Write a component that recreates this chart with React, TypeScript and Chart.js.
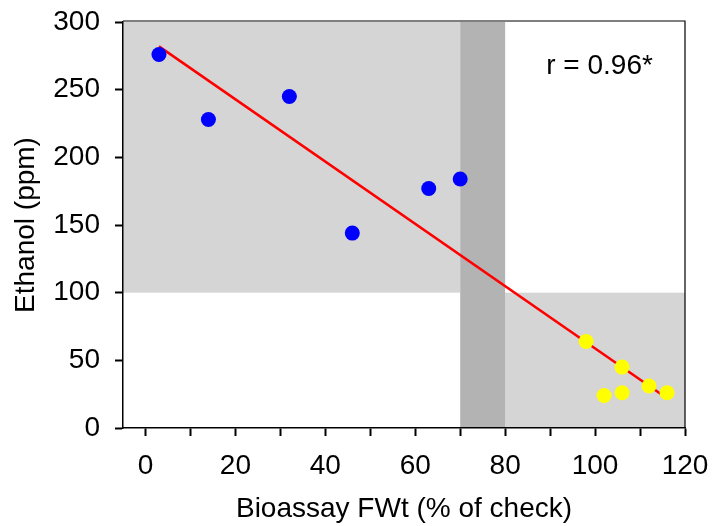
import React, { useEffect, useRef } from 'react';
import { Chart, registerables } from 'chart.js';

Chart.register(...registerables);

// Data
const blueX = [3, 14, 32, 46, 63, 70];
const blueY = [276, 228, 245, 144, 177, 184];
const yellowX = [98, 102, 106, 106, 112, 116];
const yellowY = [64, 24, 45, 26, 31, 26];
const fitX = [3, 116];
const fitY = [282, 22];

const xMin = -5;
const xMax = 120;
const xStep = 10;
const xLabelStep = 20;
const yMin = 0;
const yMax = 300;
const yStep = 50;

// shaded regions: [xFrom, xTo, yFrom, yTo]
const lightRegions = [
  [-5, 70, 100, 300],
  [80, 120, 0, 100],
];
const darkRegions = [[70, 80, 0, 300]];

const xTitle = 'Bioassay FWt (% of check)';
const yTitle = 'Ethanol (ppm)';
const annotationText = 'r = 0.96*';
const annotationAt = [101, 267];

const FONT = "'Liberation Sans', Arial, sans-serif";

const shadePlugin = {
  id: 'shade',
  beforeDraw(chart: any) {
    const { ctx, scales } = chart;
    const x = scales.x;
    const y = scales.y;
    ctx.save();
    const rect = (r: number[], color: string) => {
      const l = x.getPixelForValue(r[0]);
      const rr = x.getPixelForValue(r[1]);
      const t = y.getPixelForValue(r[3]);
      const b = y.getPixelForValue(r[2]);
      ctx.fillStyle = color;
      ctx.fillRect(l, t, rr - l, b - t);
    };
    lightRegions.forEach((r) => rect(r, '#d5d5d5'));
    darkRegions.forEach((r) => rect(r, '#b3b3b3'));
    ctx.restore();
  },
  afterDraw(chart: any) {
    const { ctx, chartArea, scales } = chart;
    ctx.save();
    ctx.strokeStyle = '#000';
    ctx.lineWidth = 1.2;
    ctx.beginPath();
    ctx.moveTo(chartArea.left, chartArea.top - 1);
    ctx.lineTo(chartArea.right, chartArea.top - 1);
    ctx.lineTo(chartArea.right, chartArea.bottom);
    ctx.stroke();
    ctx.fillStyle = '#000';
    ctx.font = `28px ${FONT}`;
    ctx.textAlign = 'center';
    ctx.textBaseline = 'middle';
    ctx.fillText(
      annotationText,
      scales.x.getPixelForValue(annotationAt[0]),
      scales.y.getPixelForValue(annotationAt[1])
    );
    ctx.restore();
  },
};

export default function App() {
  const ref = useRef<HTMLCanvasElement | null>(null);

  useEffect(() => {
    if (!ref.current) return;
    const chart = new Chart(ref.current, {
      type: 'scatter',
      data: {
        datasets: [
          {
            data: blueX.map((v, i) => ({ x: v, y: blueY[i] })),
            backgroundColor: '#0000ff',
            borderWidth: 0,
            pointRadius: 7.5,
          },
          {
            data: yellowX.map((v, i) => ({ x: v, y: yellowY[i] })),
            backgroundColor: '#ffff00',
            borderWidth: 0,
            pointRadius: 7.5,
          },
          {
            data: fitX.map((v, i) => ({ x: v, y: fitY[i] })),
            showLine: true,
            borderColor: '#ff0000',
            borderWidth: 2.5,
            pointRadius: 0,
          },
        ],
      } as any,
      options: {
        responsive: false,
        animation: false,
        devicePixelRatio: 1,
        layout: { padding: { top: 22, right: 28, left: 0, bottom: 0 } },
        plugins: {
          legend: { display: false },
          tooltip: { enabled: false },
        },
        scales: {
          x: {
            type: 'linear',
            min: xMin,
            max: xMax,
            afterFit: (s: any) => {
              s.height = 98;
              s.paddingLeft = 0;
              s.paddingRight = 0;
            },
            grid: {
              drawOnChartArea: false,
              drawTicks: true,
              tickLength: 8,
              tickWidth: 2,
              color: '#000',
            },
            border: { display: true, color: '#000', width: 1.5 },
            ticks: {
              stepSize: xStep,
              includeBounds: false,
              padding: 13,
              color: '#000',
              font: { family: FONT, size: 28 },
              maxRotation: 0,
              autoSkip: false,
              callback: (v: any) => (Number(v) % xLabelStep === 0 ? String(v) : ''),
            },
            title: {
              display: true,
              text: xTitle,
              color: '#000',
              font: { family: FONT, size: 28 },
              padding: { top: 0, bottom: 0 },
            },
          },
          y: {
            type: 'linear',
            min: yMin,
            max: yMax,
            afterFit: (s: any) => {
              s.width = 123;
              s.paddingTop = 0;
              s.paddingBottom = 0;
            },
            grid: {
              drawOnChartArea: false,
              drawTicks: true,
              tickLength: 8,
              tickWidth: 2,
              color: '#000',
            },
            border: { display: true, color: '#000', width: 1.5 },
            ticks: {
              stepSize: yStep,
              padding: 15,
              color: '#000',
              font: { family: FONT, size: 28 },
            },
            title: {
              display: true,
              text: yTitle,
              color: '#000',
              font: { family: FONT, size: 28 },
              padding: { top: 9, bottom: 0 },
            },
          },
        },
      } as any,
      plugins: [shadePlugin],
    });
    return () => chart.destroy();
  }, []);

  return (
    <div style={{ position: 'absolute', left: 0, top: 0, width: 713, height: 526, background: '#fff' }}>
      <canvas ref={ref} width={713} height={526} style={{ display: 'block' }} />
    </div>
  );
}
